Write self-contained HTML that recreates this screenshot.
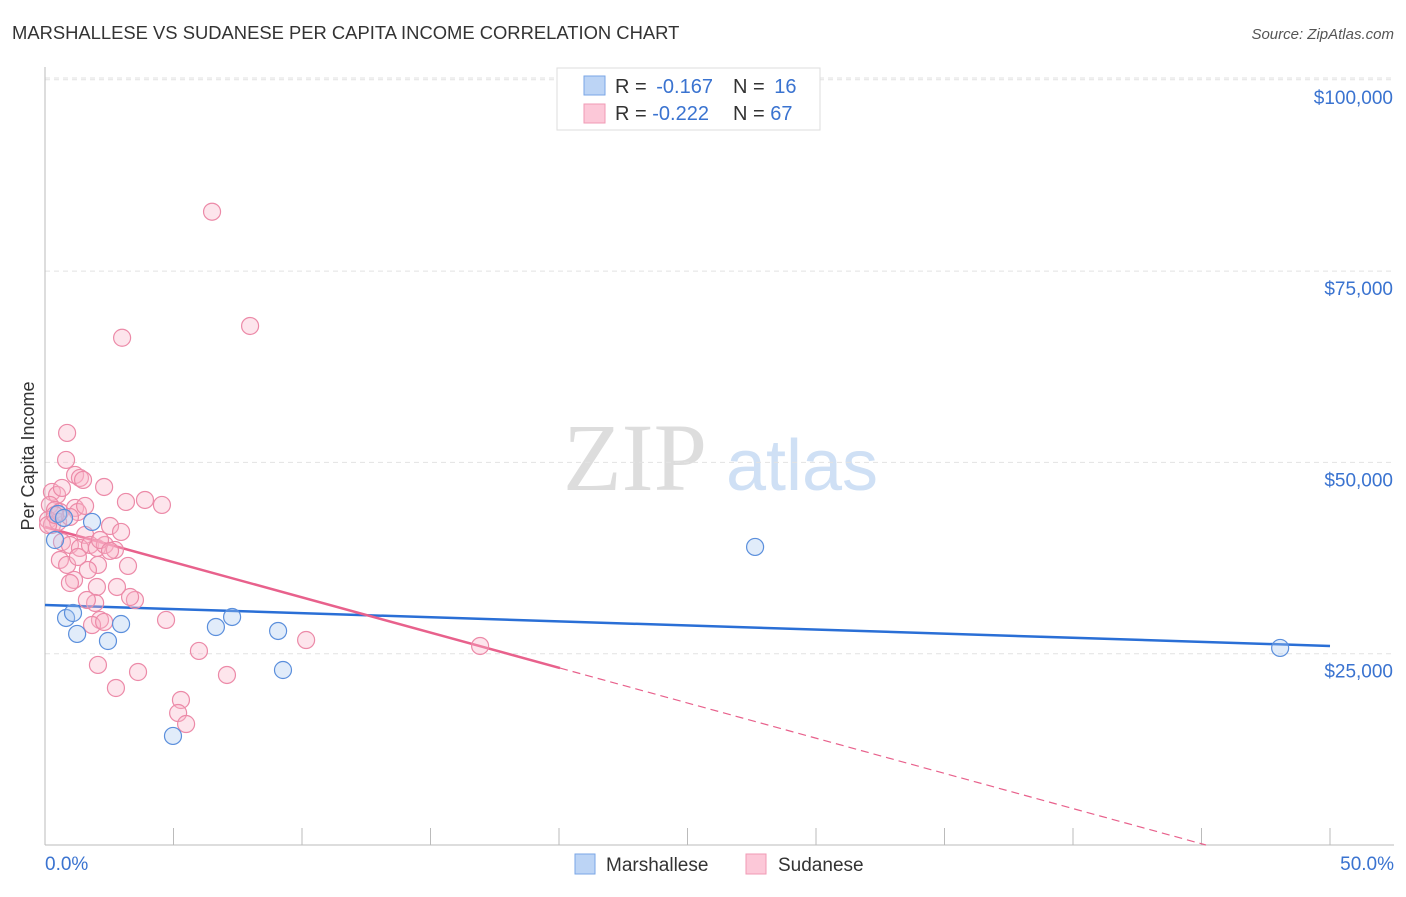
<!DOCTYPE html>
<html><head><meta charset="utf-8">
<style>
body{margin:0;background:#fff;font-family:"Liberation Sans",sans-serif;}
svg text{font-family:"Liberation Sans",sans-serif;}
</style></head>
<body>
<svg id="chart" width="1406" height="892" xmlns="http://www.w3.org/2000/svg">
<text x="12" y="39" font-size="18.4" fill="#333">MARSHALLESE VS SUDANESE PER CAPITA INCOME CORRELATION CHART</text>
<text x="1394" y="39" font-size="15" fill="#555" text-anchor="end" font-style="italic">Source: ZipAtlas.com</text>
<g>
<text x="635" y="490" font-size="96" fill="#ddd" text-anchor="middle" font-family="Liberation Serif" style="font-family:'Liberation Serif',serif">ZIP</text>
<text x="802" y="490" font-size="72" fill="#cfe0f5" text-anchor="middle">atlas</text>
</g>
<g id="grid"></g>
<g id="axes"></g>
<g id="lines"></g>
<g id="pts"></g>
<text transform="translate(34,456) rotate(-90)" font-size="18" fill="#333" text-anchor="middle">Per Capita Income</text>
<g>
<rect x="557" y="68" width="263" height="62" fill="#fff" stroke="#ddd"/>
<rect x="584" y="76" width="21" height="19" fill="#bcd4f5" stroke="#7aa6e6"/>
<rect x="584" y="104" width="21" height="19" fill="#fcc8d8" stroke="#f09ab5"/>
<text x="615" y="93" font-size="20" fill="#333">R = <tspan fill="#3a73d0" dx="4">-0.167</tspan></text>
<text x="733" y="93" font-size="20" fill="#333">N = <tspan fill="#3a73d0" dx="4">16</tspan></text>
<text x="615" y="120" font-size="20" fill="#333">R = <tspan fill="#3a73d0">-0.222</tspan></text>
<text x="733" y="120" font-size="20" fill="#333">N = <tspan fill="#3a73d0">67</tspan></text>
</g>
<g>
<rect x="575" y="854" width="20" height="20" fill="#bcd4f5" stroke="#7aa6e6"/>
<text x="606" y="871" font-size="19" fill="#333">Marshallese</text>
<rect x="746" y="854" width="20" height="20" fill="#fcc8d8" stroke="#f09ab5"/>
<text x="778" y="871" font-size="19" fill="#333">Sudanese</text>
</g>
</svg>
<script>
const yTicks=[25000,50000,75000,100000];
const yTickLabels=["$25,000","$50,000","$75,000","$100,000"];
const xTickLabels=["0.0%","50.0%"];
const marX=[0.39,0.51,0.74,1.83,0.82,1.09,1.25,2.45,2.96,4.98,6.65,7.28,9.07,9.26,27.63,48.06];
const marY=[39860,43260,42740,42220,29670,30320,27580,26660,28880,14250,28490,29800,27970,22870,38950,25750];
const sudX=[0.86,0.82,1.17,1.36,1.48,2.30,3.15,3.89,4.55,0.27,0.47,0.19,0.39,0.58,1.17,1.28,0.12,0.27,0.51,0.97,2.53,2.96,1.56,0.66,0.97,1.36,1.75,2.02,2.33,2.72,0.58,0.86,1.13,0.97,2.02,2.80,3.23,3.50,1.95,2.14,1.83,2.30,4.71,1.63,2.06,1.67,1.28,0.12,0.39,2.06,2.76,3.62,5.99,7.08,5.29,5.18,5.49,6.50,3.00,7.98,10.16,16.93,0.66,1.56,2.14,2.53,3.31];
const sudY=[53850,50320,48360,47970,47710,46790,44830,45090,44440,46140,45750,44440,43780,43520,44050,43520,42480,41820,42220,42870,41690,40910,40520,39600,39210,38820,39210,38820,39210,38560,37250,36600,34640,34240,33720,33720,36470,32020,31630,29410,28750,29150,29410,32020,36600,35940,37640,41820,43130,23530,20520,22610,25360,22220,18950,17250,15810,82760,66290,67830,26790,26010,46660,44310,39860,38430,32410];
const trendIntercept=[31370,41560];
const trendSlope=[-107.2,-920];
const trendSolidEnd=[50,20.04];
const X0=45,X1=1330,Ybot=845,Yper=191.3/25000;
const sx=v=>X0+(v/50)*(X1-X0);
const sy=v=>Ybot-v*Yper;
const NS="http://www.w3.org/2000/svg";
function mk(tag,attrs,parent){const e=document.createElementNS(NS,tag);for(const k in attrs)e.setAttribute(k,attrs[k]);document.getElementById(parent).appendChild(e);return e;}
yTicks.forEach((t,i)=>{
 const g=mk('line',{x1:45,x2:1394,y1:sy(t),y2:sy(t),stroke:'#e2e2e2','stroke-dasharray':'5,4'},'grid');
 
 
 const l=mk('text',{x:1393,y:sy(t)+24,'font-size':19,fill:'#3a73d0','text-anchor':'end'},'axes');
 l.textContent=yTickLabels[i];
 
 
});
const topGrid=mk('line',{x1:45,x2:1394,y1:78,y2:78,stroke:'#e2e2e2','stroke-dasharray':'5,4'},'grid');


const ya=mk('line',{x1:45,x2:45,y1:67,y2:845,stroke:'#bbb'},'axes');


const xa=mk('line',{x1:45,x2:1394,y1:845,y2:845,stroke:'#bbb'},'axes');


for(let i=0;i<=10;i++){const t=mk('line',{x1:sx(i*5),x2:sx(i*5),y1:828,y2:845,stroke:'#bbb'},'axes');
 
 }
[[0,45,'start'],[1,1394,'end']].forEach(([i,x,a])=>{const t=mk('text',{x:x,y:870,'font-size':19,fill:'#3a73d0','text-anchor':a},'axes');t.textContent=xTickLabels[i];
 
 });
function pts(xs,ys,fill,stroke,name){xs.forEach((x,i)=>{const c=mk('circle',{cx:sx(x),cy:sy(ys[i]),r:8.5,fill:fill,stroke:stroke,'stroke-width':1.2,'fill-opacity':0.35},'pts');
 
 });}
pts(sudX,sudY,'#f8b4c8','#ec8aa8','sudanese-point');
pts(marX,marY,'#a9c8f0','#5b8fdc','marshallese-point');
const colors=['#2a6fd6','#e8618c'];
const names=['marshallese-trendline','sudanese-trendline'];
[0,1].forEach(i=>{
 const f=x=>trendIntercept[i]+trendSlope[i]*x;
 const e=trendSolidEnd[i];
 const l=mk('line',{x1:sx(0),y1:sy(f(0)),x2:sx(e),y2:sy(f(e)),stroke:colors[i],'stroke-width':2.5},'lines');
 
 
 if(e<50){const xe=Math.min(50,-trendIntercept[i]/trendSlope[i]);
  const d=mk('line',{x1:sx(e),y1:sy(f(e)),x2:sx(xe),y2:sy(f(xe)),stroke:colors[i],'stroke-width':1.2,'stroke-dasharray':'8,5'},'lines');
  
  }
});
</script>
</body></html>
